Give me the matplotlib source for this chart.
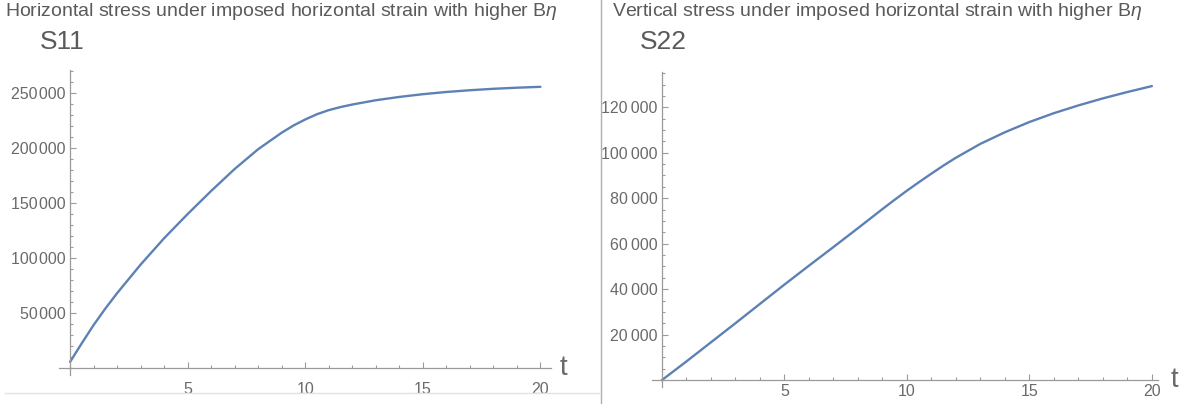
import matplotlib
matplotlib.use("Agg")
import matplotlib.pyplot as plt
from matplotlib.ticker import MultipleLocator, FuncFormatter
from matplotlib.lines import Line2D

# time samples and the two stress responses
t = [0, 0.5, 1, 1.5, 2, 3, 4, 5, 6, 7, 8, 9, 9.5, 10, 10.5, 11, 11.5, 12, 13, 14,
     15, 16, 17, 18, 19, 20]
s11 = [5500, 22500, 39000, 54000, 68000, 94000, 118000, 140000, 161000, 181000,
       199000, 214000, 220500, 226000, 230800, 234500, 237300, 239600, 243500,
       246500, 249000, 251000, 252600, 253900, 254900, 255700]
s22 = [0, 4100, 8200, 12400, 16600, 25000, 33500, 42000, 50300, 58500, 66800,
       75200, 79300, 83300, 87100, 90800, 94400, 97800, 103900, 109000, 113500,
       117400, 120800, 123900, 126700, 129300]

s11_ticks = [50000, 100000, 150000, 200000, 250000]
s22_ticks = [20000, 40000, 60000, 80000, 100000, 120000]
t_ticks = [5, 10, 15, 20]

titles = ["Horizontal stress under imposed horizontal strain with higher B$\\eta$",
          "Vertical stress under imposed horizontal strain with higher B$\\eta$"]
names = ["S11", "S22"]

plt.rcParams["font.family"] = ["Liberation Sans", "DejaVu Sans"]
plt.rcParams["mathtext.fontset"] = "custom"
plt.rcParams["mathtext.it"] = "Liberation Sans:italic"
plt.rcParams["mathtext.rm"] = "Liberation Sans"

line_color = "#5e81b5"
axis_color = "#9a9a9a"
label_color = "#6a6a6a"
title_color = "#5a5a5a"

fig = plt.figure(figsize=(11.88, 4.04), dpi=100)


def sep_fmt(gap):
    def f(v, pos):
        s = f"{int(v)}"
        if len(s) > 3:
            s = s[:-3] + gap + s[-3:]
        return s
    return f


def mma_axes(rect, ys, ylim, yticks, yminor, gap, xpad):
    ax = fig.add_axes(rect)
    ax.plot(t, ys, color=line_color, lw=1.7, solid_capstyle="round",
            solid_joinstyle="round")
    ax.set_ylim(*ylim)
    for side in ["top", "right"]:
        ax.spines[side].set_visible(False)
    ax.spines["left"].set_position(("data", 0))
    ax.spines["bottom"].set_position(("data", 0))
    for side in ["left", "bottom"]:
        ax.spines[side].set_color(axis_color)
        ax.spines[side].set_linewidth(0.9)
    ax.set_xticks(t_ticks)
    ax.xaxis.set_minor_locator(MultipleLocator(1))
    ax.set_yticks(yticks)
    ax.yaxis.set_minor_locator(MultipleLocator(yminor))
    ax.yaxis.set_major_formatter(FuncFormatter(sep_fmt(gap)))
    ax.tick_params(which="both", direction="in", color=axis_color, width=0.8)
    ax.tick_params(which="major", length=4, labelsize=11.5, labelcolor=label_color, pad=3)
    ax.tick_params(which="minor", length=2.2)
    ax.tick_params(axis="x", which="major", pad=xpad)
    ax.patch.set_alpha(0)
    return ax


ax1 = mma_axes([59 / 1188, 1 - 375 / 404, 492 / 1188, 305 / 404], s11,
               (-6400, 271000), s11_ticks, 10000, "\u200a", 10)
ax1.set_xlim(-0.47, 20.45)

ax2 = mma_axes([652 / 1188, 1 - 387 / 404, 506 / 1188, 315 / 404], s22,
               (-3000, 135500), s22_ticks, 5000, "\u2009", 2.5)
ax2.set_xlim(-0.4, 20.25)

# axis names at the end of the time axis
fig.text(563 / 1188, 1 - 368 / 404, "t", fontsize=20, color=label_color,
         ha="center", va="center")
fig.text(1174 / 1188, 1 - 380 / 404, "t", fontsize=20, color=label_color,
         ha="center", va="center")

# panel headings
fig.text(5 / 1188, 1 - 12 / 404, titles[0], fontsize=14, color=title_color,
         ha="left", va="center")
fig.text(612 / 1188, 1 - 12 / 404, titles[1], fontsize=14, color=title_color,
         ha="left", va="center")
fig.text(40 / 1188, 1 - 42 / 404, names[0], fontsize=19, color=title_color,
         ha="left", va="center")
fig.text(640 / 1188, 1 - 42 / 404, names[1], fontsize=19, color=title_color,
         ha="left", va="center")

# frame lines between the panels
fig.add_artist(Line2D([601 / 1188, 601 / 1188], [0, 1], color="#b0b0b0", lw=1))
fig.add_artist(Line2D([5 / 1188, 600 / 1188], [1 - 393 / 404, 1 - 393 / 404],
                      color="#e2e2e2", lw=1))

fig.savefig("out.png", dpi=100)
